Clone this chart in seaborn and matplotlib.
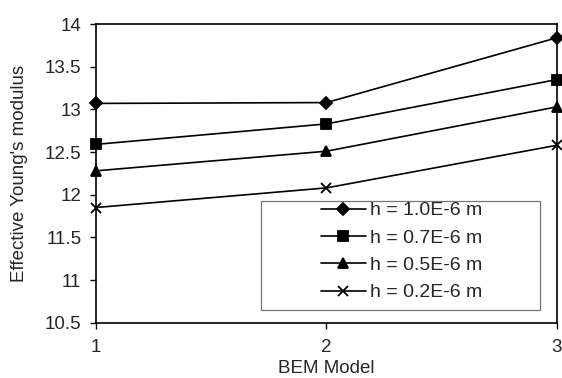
import matplotlib
matplotlib.use("Agg")
import matplotlib.pyplot as plt
import seaborn as sns
import pandas as pd
from matplotlib.patches import Rectangle

models = [1, 2, 3]
labels = ["h = 1.0E-6 m", "h = 0.7E-6 m", "h = 0.5E-6 m", "h = 0.2E-6 m"]
h10 = [13.07, 13.08, 13.84]
h07 = [12.59, 12.83, 13.35]
h05 = [12.28, 12.51, 13.03]
h02 = [11.85, 12.08, 12.58]
yticks = [10.5, 11, 11.5, 12, 12.5, 13, 13.5, 14]
ytick_labels = ["10.5", "11", "11.5", "12", "12.5", "13", "13.5", "14"]

series = [h10, h07, h05, h02]
marker_list = ["D", "s", "^", "x"]
msizes = [6, 7, 7.5, 7]

sns.set_theme(style="white")
plt.rcParams['font.family'] = ['Liberation Sans', 'DejaVu Sans']

FS = 13.5
fig = plt.figure(figsize=(5.62, 3.78), dpi=100)
ax = fig.add_axes([0.1708, 0.1463, 0.8203, 0.790])

for lab, vals, mk, ms in zip(labels, series, marker_list, msizes):
    d = pd.DataFrame({"BEM Model": models, "E": vals})
    sns.lineplot(data=d, x="BEM Model", y="E", ax=ax, color="black",
                 linewidth=1.2, marker=mk, markersize=ms,
                 markeredgecolor="black", markerfacecolor="black",
                 markeredgewidth=1.3, label=lab, clip_on=False, zorder=3)

ax.set_xlim(1, 3)
ax.set_ylim(10.5, 14)
ax.set_xticks(models)
ax.set_xticklabels(["1", "2", "3"], fontsize=FS)
ax.set_yticks(yticks)
ax.set_yticklabels(ytick_labels, fontsize=FS)
ax.tick_params(axis="both", direction="out", length=4.5, width=1, color="black",
               bottom=True, left=True, pad=6)
ax.tick_params(axis="x", pad=7)
for s in ax.spines.values():
    s.set_color("black")
    s.set_linewidth(1.2)
ax.set_xlabel("BEM Model", fontsize=FS)
ax.set_ylabel("Effective Young's modulus", fontsize=FS)
ax.xaxis.set_label_coords(0.5, -0.125)
ax.yaxis.set_label_coords(-0.147, 0.5)

handles, labs = ax.get_legend_handles_labels()
ax.legend(handles, labs, loc="upper left", bbox_to_anchor=(0.488, 0.405),
          frameon=False, fontsize=14, handlelength=2.3, handletextpad=0.2,
          labelspacing=0.5, borderpad=0.0, borderaxespad=0.0)
ax.add_patch(Rectangle((0.358, 0.0425), 0.605, 0.365, transform=ax.transAxes,
                       fill=False, edgecolor="#777777", linewidth=0.9, zorder=1))

fig.savefig("out.png", dpi=100)
